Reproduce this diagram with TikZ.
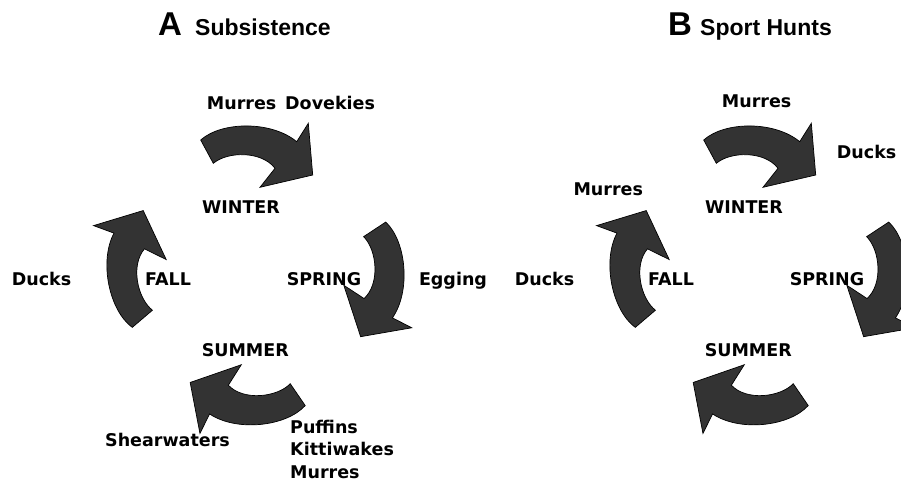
\documentclass[tikz,border=0pt]{standalone}
\usepackage{fontspec}
\newfontfamily\lblfont{DejaVu Sans}
\newfontfamily\ttlfont{Liberation Sans}
\definecolor{arrowgray}{HTML}{333333}
\tikzset{
  lbl/.style={font=\lblfont\bfseries\fontsize{17.5}{21}\selectfont, inner sep=0pt, anchor=base},
  lblw/.style={lbl, anchor=base west},
  bigletter/.style={font=\ttlfont\bfseries\fontsize{33}{36}\selectfont, inner sep=0pt, anchor=base west},
  ttl/.style={font=\ttlfont\bfseries\fontsize{23}{26}\selectfont, inner sep=0pt, anchor=base west},
  cyclearrow/.pic={
    \fill[arrowgray, draw=black, line width=0.7pt]
      (-54.3,136) .. controls (-33,155) and (17,155) .. (41.7,134.3)
      -- (53.3,152.7) -- (57.7,101) -- (5,88.7) -- (20,107.7)
      .. controls (7,125) and (-27,125) .. (-41.7,112.7) -- cycle;
  }
}
\begin{document}
\begin{tikzpicture}[x=1pt, y=1pt]
\useasboundingbox (0,0) rectangle (901,-484);
\clip (0,0) rectangle (901,-484);
\fill[white] (0,0) rectangle (901,-484);

% ---------- Panel A ----------
\node[bigletter] (tA) at (158,-36) {A};
\node[ttl] (tAs) at (195,-36) {Subsistence};

\pic[rotate=0]    at (255,-276) {cyclearrow};
\pic[rotate=-85]  at (255,-288) {cyclearrow};
\pic[rotate=-174] at (237,-276) {cyclearrow};
\pic[rotate=102]  at (254,-246) {cyclearrow};

\node[lblw] (aMur) at (206.7,-110) {Murres};
\node[lblw] (aDov) at (285,-110) {Dovekies};
\node[lbl] (aWin) at (241,-213) {WINTER};
\node[lbl] (aSpr) at (324,-285) {SPRING};
\node[lbl] (aEgg) at (453,-285) {Egging};
\node[lbl] (aSum) at (245.3,-356.7) {SUMMER};
\node[lbl] (aFal) at (168,-285) {FALL};
\node[lbl] (aDuc) at (41.5,-285) {Ducks};
\node[lblw] (aPuf) at (290,-433) {Puffins};
\node[lblw] (aKit) at (290,-455) {Kittiwakes};
\node[lblw] (aMu2) at (290,-478) {Murres};
\node[lbl] (aShe) at (167.5,-446) {Shearwaters};

% ---------- Panel B ----------
\node[bigletter] (tB) at (668,-36) {B};
\node[ttl] (tBs) at (700,-36) {Sport Hunts};

\pic[rotate=0]    at (758,-276) {cyclearrow};
\pic[rotate=-85]  at (758,-288) {cyclearrow};
\pic[rotate=-174] at (740,-276) {cyclearrow};
\pic[rotate=102]  at (757,-246) {cyclearrow};

\node[lblw] (bMur) at (721.7,-107) {Murres};
\node[lblw] (bDuc1) at (836.7,-158) {Ducks};
\node[lblw] (bMur2) at (573.3,-195) {Murres};
\node[lbl] (bWin) at (744,-213) {WINTER};
\node[lbl] (bSpr) at (827,-285) {SPRING};
\node[lbl] (bSum) at (748.3,-356.7) {SUMMER};
\node[lbl] (bFal) at (671,-285) {FALL};
\node[lbl] (bDuc) at (544.5,-285) {Ducks};
\end{tikzpicture}
\end{document}
